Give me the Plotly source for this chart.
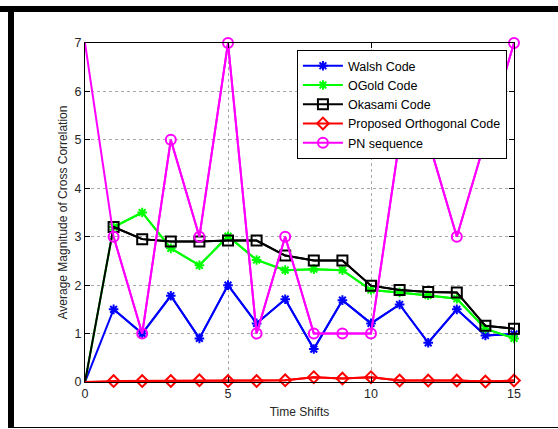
import plotly.graph_objects as go

shifts = list(range(16))
walsh = [0, 1.50, 1.00, 1.78, 0.90, 2.00, 1.21, 1.71, 0.68, 1.69, 1.21, 1.60, 0.81, 1.50, 0.96, 0.99]
ogold = [0, 3.20, 3.50, 2.76, 2.41, 3.01, 2.52, 2.31, 2.33, 2.31, 1.90, 1.85, 1.79, 1.72, 1.10, 0.90]
okasami = [0, 3.20, 2.95, 2.90, 2.90, 2.92, 2.92, 2.61, 2.51, 2.51, 1.99, 1.90, 1.86, 1.85, 1.16, 1.10]
proposed = [0, 0.02, 0.02, 0.02, 0.035, 0.02, 0.02, 0.035, 0.10, 0.07, 0.10, 0.03, 0.03, 0.03, 0.01, 0.03]
pn = [7, 3, 1, 5, 3, 7, 1, 3, 1, 1, 1, 5, 5, 3, 5, 7]

series = [
    ("Walsh Code", walsh, "#0000ff", "asterisk-open", 8),
    ("OGold Code", ogold, "#00ff00", "asterisk-open", 8),
    ("Okasami Code", okasami, "#000000", "square-open", 10),
    ("Proposed Orthogonal Code", proposed, "#ff0000", "diamond-open", 9),
    ("PN sequence", pn, "#ff00ff", "circle-open", 10),
]

fig = go.Figure()
for name, vals, col, sym, ms in series:
    # full line (including first point, which carries no marker)
    fig.add_trace(go.Scatter(x=shifts, y=vals, mode="lines", showlegend=False,
                             line=dict(color=col, width=2), cliponaxis=True, hoverinfo="skip"))
    fig.add_trace(go.Scatter(x=shifts[1:], y=vals[1:], mode="lines+markers", name=name,
                             line=dict(color=col, width=2),
                             marker=dict(symbol=sym, size=ms, color=col,
                                         line=dict(color=col, width=2)),
                             cliponaxis=False))

axis_common = dict(showline=True, linecolor="black", linewidth=1, mirror="ticks",
                   ticks="inside", ticklen=5, tickcolor="black",
                   showgrid=True, gridcolor="#a8a8a8", griddash="dot", gridwidth=1,
                   zeroline=False, tickfont=dict(family="Liberation Sans, Arial", size=12.5, color="#262626"))

fig.update_xaxes(range=[0, 15], tickvals=[0, 5, 10, 15],
                 title=dict(text="Time Shifts", standoff=7,
                            font=dict(family="Liberation Sans, Arial", size=12, color="#262626")),
                 **axis_common)
fig.update_yaxes(range=[0, 7], tickvals=list(range(8)),
                 title=dict(text="Average Magnitude of Cross Correlation", standoff=4,
                            font=dict(family="Liberation Sans, Arial", size=12, color="#262626")),
                 **axis_common)

fig.update_layout(
    width=558, height=429,
    margin=dict(l=85, r=44, t=43, b=47),
    paper_bgcolor="white", plot_bgcolor="white",
    legend=dict(x=0.494, y=0.979, xanchor="left", yanchor="top",
                bgcolor="white", bordercolor="black", borderwidth=1,
                font=dict(family="Liberation Sans, Arial", size=12.5, color="black"),
                itemwidth=40, tracegroupgap=0),
    shapes=[
        dict(type="rect", xref="paper", yref="paper", x0=-85/429, x1=1.2, y0=1 + 31/339, y1=1 + 37/339,
             fillcolor="black", line=dict(width=0), layer="above"),
        dict(type="rect", xref="paper", yref="paper", x0=-77/429, x1=-71/429, y0=-46/339, y1=1 + 37/339,
             fillcolor="black", line=dict(width=0), layer="above"),
        dict(type="rect", xref="paper", yref="paper", x0=-77/429, x1=1.2, y0=-46/339, y1=-45/339,
             fillcolor="black", line=dict(width=0), layer="above"),
    ],
)

fig.write_html("out.html")
